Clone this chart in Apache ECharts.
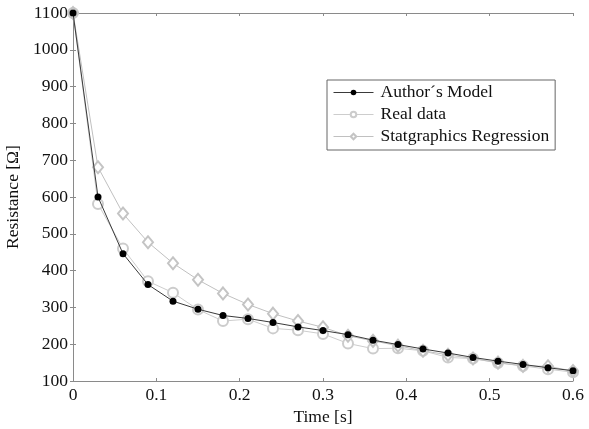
<!DOCTYPE html>
<html>
<head>
<meta charset="utf-8">
<script src="https://cdn.jsdelivr.net/npm/echarts@6/dist/echarts.min.js"></script>
<style>html,body{margin:0;padding:0;background:#fff}#c{width:589px;height:429px}</style>
</head>
<body>
<div id="c"></div>
<script>
const times = [0, 0.03, 0.06, 0.09, 0.12, 0.15, 0.18, 0.21, 0.24, 0.27, 0.30, 0.33, 0.36, 0.39, 0.42, 0.45, 0.48, 0.51, 0.54, 0.57, 0.60];
const authorsModel = [1100, 600, 446, 362, 317, 295, 278, 270, 259, 247, 237, 226, 211, 199, 187, 176, 164, 154, 145, 136, 128];
const realData = [1100, 581, 460, 371, 340, 294, 263, 268, 243, 238, 228, 202, 188, 189, 182, 164, 161, 149, 141, 132, 124];
const statgraphics = [1100, 681, 555, 477, 420, 375, 338, 308, 283, 263, 246, 223, 209, 196, 182, 171, 161, 150, 141, 140, 127];
const xTicks = [0, 0.1, 0.2, 0.3, 0.4, 0.5, 0.6];
const yTicks = [100, 200, 300, 400, 500, 600, 700, 800, 900, 1000, 1100];

const pair = arr => times.map((t, i) => [t, arr[i]]);
const font = 'Liberation Serif';
const fs = 17.5;
const axisColor = '#8a8a8a';

const chart = echarts.init(document.getElementById('c'));
chart.setOption({
  animation: false,
  backgroundColor: '#fff',
  grid: {left: 73, right: 16, top: 13, bottom: 48, containLabel: false, outerBoundsMode: 'none'},
  legend: {
    orient: 'vertical', left: 327, top: 80,
    data: ["Author´s Model", 'Real data', 'Statgraphics Regression'],
    backgroundColor: '#fff', borderColor: '#666', borderWidth: 1,
    padding: [3, 6, 4, 6], itemGap: 3, itemWidth: 40, itemHeight: 7,
    lineStyle: {width: 1},
    itemStyle: {borderWidth: 1},
    textStyle: {fontFamily: font, fontSize: fs, color: '#111', lineHeight: 19, padding: [0, 0, 0, 2]}
  },
  xAxis: [{
    type: 'value', min: 0, max: 0.6, interval: 0.1,
    name: 'Time [s]', nameLocation: 'middle', nameGap: 23,
    nameTextStyle: {fontFamily: font, fontSize: fs, color: '#111'},
    axisLine: {show: true, lineStyle: {color: axisColor}},
    axisTick: {show: true, inside: true, length: 3, lineStyle: {color: axisColor}},
    axisLabel: {fontFamily: font, fontSize: fs, color: '#111', margin: 5,
      formatter: v => { const m = xTicks.find(t => Math.abs(t - v) < 1e-9); return m === undefined ? '' : String(m); }},
    splitLine: {show: false}
  }, {
    type: 'value', min: 0, max: 0.6, interval: 0.1, position: 'top',
    axisLine: {show: true, lineStyle: {color: axisColor}},
    axisTick: {show: true, inside: true, length: 3, lineStyle: {color: axisColor}},
    axisLabel: {show: false}, splitLine: {show: false}
  }],
  yAxis: [{
    type: 'value', min: 100, max: 1100, interval: 100,
    name: 'Resistance [Ω]', nameLocation: 'middle', nameGap: 47,
    nameTextStyle: {fontFamily: font, fontSize: fs, color: '#111'},
    axisLine: {show: true, lineStyle: {color: axisColor}},
    axisTick: {show: true, inside: true, length: 3, lineStyle: {color: axisColor}},
    axisLabel: {fontFamily: font, fontSize: fs, color: '#111', margin: 5,
      formatter: v => yTicks.includes(v) ? String(v) : ''},
    splitLine: {show: false}
  }, {
    type: 'value', min: 100, max: 1100, interval: 100, position: 'right',
    axisLine: {show: true, lineStyle: {color: axisColor}},
    axisTick: {show: true, inside: true, length: 3, lineStyle: {color: axisColor}},
    axisLabel: {show: false}, splitLine: {show: false}
  }],
  series: [{
    name: 'Real data', type: 'line', data: pair(realData),
    symbol: 'emptyCircle', symbolSize: 10, showAllSymbol: true,
    lineStyle: {color: '#cdcdcd', width: 1},
    itemStyle: {color: '#cccccc', borderColor: '#cccccc', borderWidth: 1},
    z: 2
  }, {
    name: 'Statgraphics Regression', type: 'line', data: pair(statgraphics),
    symbol: 'emptyDiamond', symbolSize: [10, 12], showAllSymbol: true,
    lineStyle: {color: '#c0c0c0', width: 1},
    itemStyle: {color: '#c4c4c4', borderColor: '#c4c4c4', borderWidth: 1},
    z: 3
  }, {
    name: "Author´s Model", type: 'line', data: pair(authorsModel),
    symbol: 'circle', symbolSize: 7, showAllSymbol: true,
    lineStyle: {color: '#3a3a3a', width: 1},
    itemStyle: {color: '#000'},
    z: 4
  }]
});
</script>
</body>
</html>
